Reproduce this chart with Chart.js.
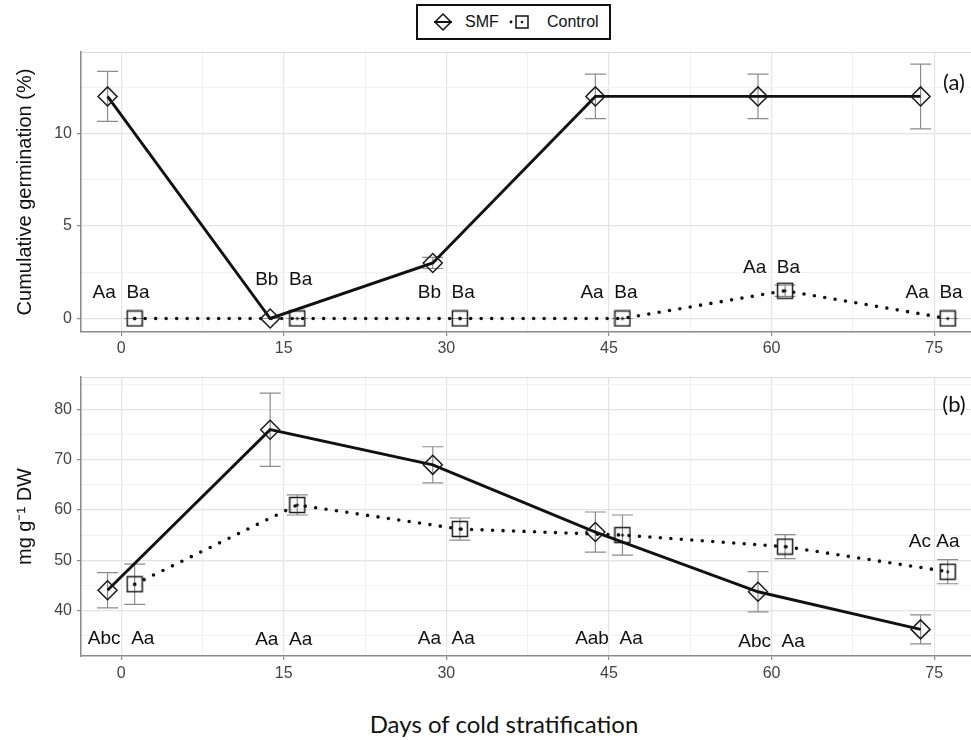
<!DOCTYPE html>
<html lang="en">
<head>
  <meta charset="UTF-8">
  <title>Cumulative germination and content during cold stratification</title>
  <script src="https://cdn.jsdelivr.net/npm/chart.js"></script>
  <style>
    body { margin: 0; background: #fff; }
    #wrap { position: relative; width: 971px; height: 740px; overflow: hidden; font-family: "Liberation Sans", Arial, sans-serif; }
    #germChart { position: absolute; left: 0; top: 32px; }
    #contChart { position: absolute; left: 0; top: 357px; }
    .legend { position: absolute; left: 416px; top: 4px; width: 195px; height: 36px; box-sizing: border-box; border: 2px solid #111; }
    .legend svg, .legend span { position: absolute; }
    .legend span { font-size: 16px; color: #111; line-height: 20px; top: 6px; }
    .xtitle { position: absolute; left: 304px; width: 400px; top: 709px; text-align: center; font-family: Lato, "Open Sans", sans-serif; font-size: 24px; line-height: 30px; color: #111; }
  </style>
</head>
<body>
<div id="wrap">
  <div class="legend">
    <svg style="left:14px;top:6px" width="22" height="20">
      <line x1="2" y1="10" x2="20" y2="10" stroke="#111" stroke-width="2"/>
      <polygon points="11,2 19,10 11,18 3,10" fill="none" stroke="#111" stroke-width="1.5"/>
    </svg>
    <span style="left:47px">SMF</span>
    <svg style="left:88px;top:6px" width="30" height="20">
      <circle cx="5" cy="10" r="1.4" fill="#111"/>
      <rect x="10" y="4" width="12" height="12" fill="none" stroke="#111" stroke-width="1.5"/>
      <circle cx="16" cy="10" r="1.3" fill="#111"/>
    </svg>
    <span style="left:129px">Control</span>
  </div>
  <canvas id="germChart" width="971" height="328"></canvas>
  <canvas id="contChart" width="971" height="333"></canvas>
  <div class="xtitle">Days of cold stratification</div>
</div>

<script>
  // Days of stratification (x values)
  const days = [0, 15, 30, 45, 60, 75];

  // (a) cumulative germination (%)
  const germSMF = [12, 0, 3, 12, 12, 12];
  const germSMFErr = [1.35, 0, 0.3, 1.2, 1.2, 1.75];
  const germCtrl = [0, 0, 0, 0, 1.5, 0];
  const germCtrlErr = [0, 0, 0, 0, 0.3, 0];
  const germLetters = ['Aa  Ba', 'Bb  Ba', 'Bb  Ba', 'Aa  Ba', 'Aa  Ba', 'Aa  Ba'];
  const germLetterY = [1.4, 2.1, 1.4, 1.4, 2.75, 1.4];

  // (b) mg g-1 DW
  const contSMF = [44, 76, 69, 55.6, 43.7, 36.2];
  const contSMFErr = [3.5, 7.3, 3.6, 4, 4, 2.9];
  const contCtrl = [45.2, 61, 56.2, 55, 52.7, 47.7];
  const contCtrlErr = [4, 2, 2.2, 4, 2.4, 2.4];
  const contLetters = ['Abc  Aa', 'Aa  Aa', 'Aa  Aa', 'Aab  Aa', 'Abc  Aa', 'Ac Aa'];
  const contLetterY = [34.4, 34.1, 34.4, 34.4, 33.7, 53.7];

  // tick positions (major + minor grid)
  const xTicks = [0, 7.5, 15, 22.5, 30, 37.5, 45, 52.5, 60, 67.5, 75];
  const germTicks = [0, 2.5, 5, 7.5, 10, 12.5, 14.4];
  const contTicks = [35, 40, 45, 50, 55, 60, 65, 70, 75, 80, 85, 86.5];

  const dodge = 1.25;
  Chart.defaults.font.family = "'Liberation Sans', Arial, sans-serif";

  // open square with a dot in the middle
  function squareMark() {
    const c = document.createElement('canvas');
    c.width = c.height = 18;
    const g = c.getContext('2d');
    g.strokeStyle = '#1a1a1a';
    g.lineWidth = 1.5;
    g.strokeRect(1.5, 1.5, 15, 15);
    g.fillStyle = '#1a1a1a';
    g.beginPath();
    g.arc(9, 9, 1.5, 0, Math.PI * 2);
    g.fill();
    return c;
  }

  const errorBars = {
    id: 'errorBars',
    beforeDatasetsDraw(chart) {
      const { ctx, scales: { x, y } } = chart;
      ctx.save();
      ctx.strokeStyle = '#8c8c8c';
      ctx.lineWidth = 1.2;
      chart.data.datasets.forEach(ds => {
        ds.data.forEach((p, i) => {
          const e = ds.errors[i];
          const px = x.getPixelForValue(p.x);
          const top = y.getPixelForValue(p.y + e);
          const bot = y.getPixelForValue(p.y - e);
          ctx.beginPath();
          ctx.moveTo(px, top); ctx.lineTo(px, bot);
          ctx.moveTo(px - 10.5, top); ctx.lineTo(px + 10.5, top);
          ctx.moveTo(px - 10.5, bot); ctx.lineTo(px + 10.5, bot);
          ctx.stroke();
        });
      });
      ctx.restore();
    }
  };

  const letterLabels = {
    id: 'letterLabels',
    afterDatasetsDraw(chart, args, opts) {
      const { ctx, chartArea, scales: { x, y } } = chart;
      ctx.save();
      ctx.fillStyle = '#111';
      ctx.textAlign = 'center';
      ctx.textBaseline = 'middle';
      ctx.font = "19px 'Liberation Sans', Arial, sans-serif";
      opts.letters.forEach((t, i) => {
        ctx.fillText(t, x.getPixelForValue(days[i]), y.getPixelForValue(opts.ys[i]));
      });
      // panel tag
      ctx.font = "22px Lato, 'Open Sans', sans-serif";
      ctx.fillText(opts.tag, chartArea.right - 17, chartArea.top + opts.tagDy);
      ctx.restore();
    }
  };

  function makePanel(id, o) {
    const pts = (ys, off) => ys.map((v, i) => ({ x: days[i] + off, y: v }));
    return new Chart(document.getElementById(id), {
      type: 'line',
      data: {
        datasets: [
          {
            label: 'SMF',
            data: pts(o.smf, -dodge),
            errors: o.smfErr,
            borderColor: '#111',
            borderWidth: 2.9,
            pointStyle: 'rectRot',
            pointRadius: 9.5,
            pointBorderWidth: 1.5,
            pointBorderColor: '#1a1a1a',
            pointBackgroundColor: 'rgba(0,0,0,0)',
            tension: 0
          },
          {
            label: 'Control',
            data: pts(o.ctrl, dodge),
            errors: o.ctrlErr,
            borderColor: '#111',
            borderWidth: 3.6,
            borderDash: [0, 10.5],
            borderCapStyle: 'round',
            pointStyle: squareMark(),
            tension: 0
          }
        ]
      },
      options: {
        responsive: false,
        animation: false,
        events: [],
        layout: { autoPadding: false, padding: { top: 20, left: 0, right: 0, bottom: 0 } },
        plugins: {
          legend: { display: false },
          tooltip: { enabled: false },
          letterLabels: { letters: o.letters, ys: o.letterY, tag: o.tag, tagDy: o.tagDy }
        },
        scales: {
          x: {
            type: 'linear',
            min: -3.7,
            max: 78.4,
            afterBuildTicks: s => { s.ticks = xTicks.map(v => ({ value: v })); },
            afterFit: s => { s.height = o.xAxisH; s.paddingLeft = 0; s.paddingRight = 0; },
            ticks: {
              autoSkip: false, maxRotation: 0, padding: o.xPad,
              color: '#444', font: { size: 16 },
              callback: v => (v % 15 === 0 ? v : '')
            },
            grid: {
              color: c => (c.tick && c.tick.value % 15 === 0 ? '#e4e4e4' : '#efefef'),
              lineWidth: c => (c.tick && c.tick.value % 15 === 0 ? 1.2 : 0.9),
              tickLength: 4,
              tickColor: c => (c.tick && c.tick.value % 15 === 0 ? '#8a8a8a' : 'rgba(0,0,0,0)')
            },
            border: { color: '#8a8a8a', width: 1.5 }
          },
          y: {
            min: o.yMin,
            max: o.yMax,
            afterBuildTicks: s => { s.ticks = o.yTicks.map(v => ({ value: v })); },
            afterFit: s => { s.width = 81; s.paddingTop = 0; s.paddingBottom = 0; },
            ticks: {
              autoSkip: false, padding: 5,
              color: '#444', font: { size: 16 },
              callback: v => (v % o.yStep === 0 ? v : '')
            },
            grid: {
              color: c => (c.tick && c.tick.value === o.yMax ? '#d6d6d6'
                : c.tick && c.tick.value % o.yStep === 0 ? '#e4e4e4' : '#efefef'),
              lineWidth: c => (c.tick && c.tick.value % o.yStep === 0 ? 1.2 : 0.9),
              tickLength: 4,
              tickColor: c => (c.tick && c.tick.value % o.yStep === 0 ? '#8a8a8a' : 'rgba(0,0,0,0)')
            },
            border: { color: '#8a8a8a', width: 1.5 },
            title: {
              display: true, text: o.yTitle, color: '#111',
              font: { size: 20 }, padding: { top: 13, bottom: 0 }
            }
          }
        }
      },
      plugins: [errorBars, letterLabels]
    });
  }

  makePanel('germChart', {
    smf: germSMF, smfErr: germSMFErr, ctrl: germCtrl, ctrlErr: germCtrlErr,
    letters: germLetters, letterY: germLetterY, tag: '(a)', tagDy: 31,
    yMin: -0.73, yMax: 14.4, yTicks: germTicks, yStep: 5,
    yTitle: 'Cumulative germination (%)', xAxisH: 28, xPad: 3
  });

  makePanel('contChart', {
    smf: contSMF, smfErr: contSMFErr, ctrl: contCtrl, ctrlErr: contCtrlErr,
    letters: contLetters, letterY: contLetterY, tag: '(b)', tagDy: 28,
    yMin: 30.9, yMax: 86.5, yTicks: contTicks, yStep: 10,
    yTitle: 'mg g⁻¹ DW', xAxisH: 34, xPad: 4
  });
</script>
</body>
</html>
